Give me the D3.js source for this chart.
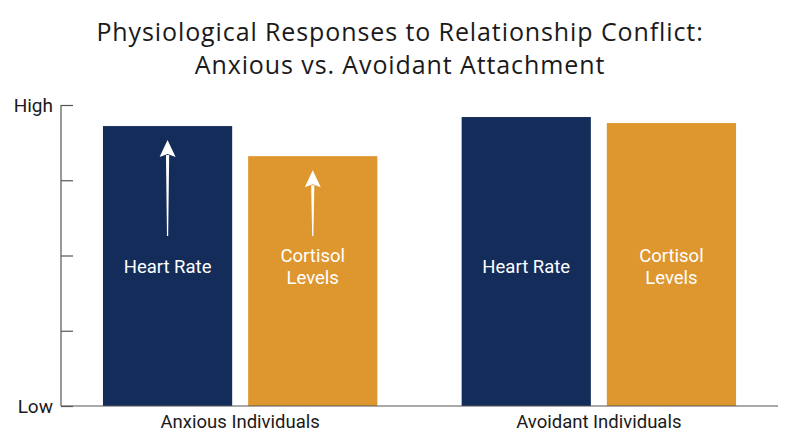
<!DOCTYPE html>
<html><head><meta charset="utf-8">
<script src="https://cdn.jsdelivr.net/npm/d3@7"></script>
<style>body{margin:0;background:#fff}</style>
</head><body>
<svg id="c" width="800" height="447"></svg>
<script>
const groups = ["Anxious Individuals", "Avoidant Individuals"];
const measures = ["Heart Rate", "Cortisol Levels"];
const anxiousValues = [93, 83];
const avoidantValues = [96, 94];
const showArrow = [true, false];
const yTickValues = [0, 25, 50, 75, 100];
const yTickLabels = {0: "Low", 100: "High"};
const titleLines = ["Physiological Responses to Relationship Conflict:", "Anxious vs. Avoidant Attachment"];

const data = groups.map((g, i) => ({group: g, values: i === 0 ? anxiousValues : avoidantValues, arrow: showArrow[i]}));
const colors = {"Heart Rate": "#142c5a", "Cortisol Levels": "#de962f"};

const svg = d3.select("#c");
const mLeft = 61, mRight = 778, mTop = 105, mBottom = 406;

const x0 = d3.scaleBand().domain(groups).range([mLeft, mRight]).paddingInner(0.235).paddingOuter(0.117);
const x1 = d3.scaleBand().domain(measures).range([0, x0.bandwidth()]).paddingInner(0.11);
const y = d3.scaleLinear().domain([0, 100]).range([mBottom, mTop]);

// title
svg.append("g").selectAll("text").data(titleLines).join("text")
  .attr("x", 400).attr("y", (d, i) => 41 + i * 33)
  .attr("text-anchor", "middle")
  .attr("font-family", "Open Sans, sans-serif").attr("font-size", 25).attr("fill", "#1a1a1a")
  .attr("letter-spacing", 0.9)
  .text(d => d);

// y axis
const yAxis = svg.append("g").attr("transform", `translate(${mLeft},0)`)
  .call(d3.axisRight(y).tickValues(yTickValues).tickSize(12).tickFormat(""));
yAxis.select(".domain").remove();
yAxis.selectAll(".tick line").attr("stroke", "#555").attr("stroke-width", 1.2);
svg.append("line").attr("x1", mLeft).attr("x2", mLeft).attr("y1", y(100)).attr("y2", y(0)).attr("stroke", "#555").attr("stroke-width", 1.2);
svg.append("g").selectAll("text").data(yTickValues.filter(v => yTickLabels[v])).join("text")
  .attr("x", mLeft - 8).attr("y", d => y(d)).attr("dy", "0.35em")
  .attr("text-anchor", "end").attr("font-family", "Roboto, sans-serif").attr("font-size", 19).attr("fill", "#1a1a1a")
  .text(d => yTickLabels[d]);

// bars
const gg = svg.append("g").selectAll("g").data(data).join("g")
  .attr("transform", d => `translate(${x0(d.group)},0)`);
gg.selectAll("rect").data(d => measures.map((m, i) => ({m, v: d.values[i]}))).join("rect")
  .attr("x", d => x1(d.m)).attr("y", d => y(d.v))
  .attr("width", x1.bandwidth()).attr("height", d => y(0) - y(d.v))
  .attr("fill", d => colors[d.m]);

// labels in bars
gg.each(function(d) {
  const g = d3.select(this);
  measures.forEach((m, i) => {
    const cx = x1(m) + x1.bandwidth() / 2;
    const lines = m === "Heart Rate" ? ["Heart Rate"] : ["Cortisol", "Levels"];
    const base = lines.length === 1 ? 273 : 262;
    lines.forEach((t, j) => {
      g.append("text").attr("x", cx).attr("y", base + j * 22)
        .attr("text-anchor", "middle").attr("font-family", "Roboto, sans-serif")
        .attr("font-size", 18.5).attr("fill", "#fff").text(t);
    });
    if (d.arrow) {
      const tip = y(d.values[i]) + 14;
      const end = 236;
      g.append("path")
        .attr("d", `M${cx - 0.6},${end} L${cx + 0.6},${end} L${cx + 1.6},${tip + 15} L${cx - 1.6},${tip + 15} Z`)
        .attr("fill", "#fff");
      g.append("path")
        .attr("d", `M${cx},${tip} L${cx + 8},${tip + 17} L${cx},${tip + 14} L${cx - 8},${tip + 17} Z`)
        .attr("fill", "#fff");
    }
  });
});

// x axis
svg.append("line").attr("x1", mLeft).attr("x2", mRight).attr("y1", y(0)).attr("y2", y(0)).attr("stroke", "#555").attr("stroke-width", 1.2);
svg.append("g").selectAll("text").data(groups).join("text")
  .attr("x", d => x0(d) + x0.bandwidth() / 2).attr("y", 428)
  .attr("text-anchor", "middle").attr("font-family", "Roboto, sans-serif").attr("font-size", 18.5).attr("fill", "#1a1a1a")
  .text(d => d);
</script>
</body></html>
